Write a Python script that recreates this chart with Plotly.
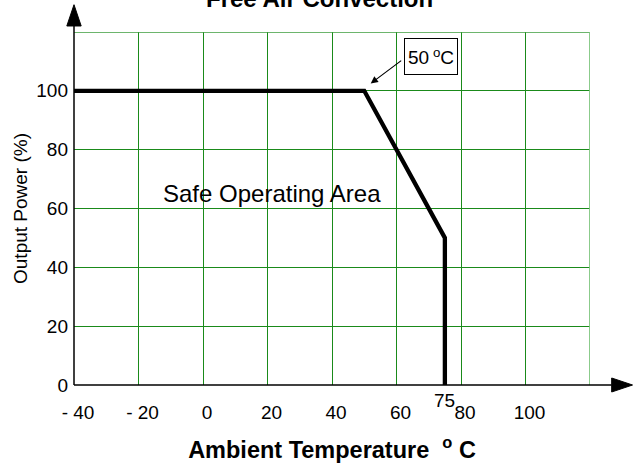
import plotly.graph_objects as go

# ---- data ----
temp = [-40, 50, 75, 75]          # ambient temperature (°C)
power = [100, 100, 50, 0]         # output power (%)
x_tick_vals = [-40, -20, 0, 20, 40, 60, 80, 100]
x_tick_text = ["- 40", "- 20", "0", "20", "40", "60", "80", "100"]
y_tick_vals = [0, 20, 40, 60, 80, 100]
y_tick_text = ["0", "20", "40", "60", "80", "100"]
x_range = [-40, 120]
y_range = [0, 120]
knee_temp = 50
cutoff_temp = 75

FONT = "Liberation Sans, Arial, sans-serif"
GRID = "#1a8a1a"
GRID_LIGHT = "#7fc67f"

fig = go.Figure()
fig.add_trace(go.Scatter(
    x=temp, y=power, mode="lines",
    line=dict(color="black", width=4.3),
    cliponaxis=False, hoverinfo="skip", showlegend=False,
))

fig.update_layout(
    width=633, height=467,
    margin=dict(l=74, r=43, t=32, b=82),
    paper_bgcolor="white", plot_bgcolor="white",
    font=dict(family=FONT, color="black", size=19),
    showlegend=False,
)

fig.update_xaxes(
    range=x_range, tickvals=x_tick_vals, ticktext=x_tick_text,
    showgrid=True, gridcolor=GRID, gridwidth=1.3,
    showline=False, zeroline=False, ticks="",
    tickfont=dict(size=19), ticklabelstandoff=14, ticklabelshift=4,
    title=dict(text="<b>Ambient Temperature  <sup>o</sup> C</b>",
               font=dict(size=23.5), standoff=19),
    automargin=False,
)
fig.update_yaxes(
    range=y_range, tickvals=y_tick_vals, ticktext=y_tick_text,
    showgrid=True, gridcolor=GRID, gridwidth=1.3,
    showline=False, zeroline=False, ticks="",
    tickfont=dict(size=19), ticklabelstandoff=5,
    title=dict(text="Output Power (%)", font=dict(size=19), standoff=3),
    automargin=False,
)

# plot frame edges (top and right) in green
fig.add_shape(type="line", xref="x", yref="y", x0=x_range[0], x1=x_range[1],
              y0=y_range[1], y1=y_range[1], line=dict(color="#3c9c3c", width=1.5))
fig.add_shape(type="line", xref="x", yref="y", x0=x_range[1], x1=x_range[1],
              y0=y_range[0], y1=y_range[1], line=dict(color=GRID_LIGHT, width=1.8))

# axis arrows (paper coords)
fig.add_shape(type="line", xref="paper", yref="paper", x0=0, x1=1.042, y0=0, y1=0,
              line=dict(color="black", width=1.5))
fig.add_shape(type="path", xref="paper", yref="paper",
              path="M 1.042,-0.0198 L 1.0824,0 L 1.042,0.0198 Z",
              fillcolor="black", line=dict(color="black", width=1))
fig.add_shape(type="line", xref="paper", yref="paper", x0=0, x1=0, y0=0, y1=1.017,
              line=dict(color="black", width=1.5))
fig.add_shape(type="path", xref="paper", yref="paper",
              path="M -0.0139,1.017 L 0,1.0773 L 0.0139,1.017 Z",
              fillcolor="black", line=dict(color="black", width=1))

# title (partly cut off at top)
fig.add_annotation(text="<b>Free Air Convection</b>", xref="paper", yref="paper",
                   x=0.475, y=1.052, xanchor="center", yanchor="bottom",
                   showarrow=False, font=dict(size=24))

# safe operating area label
fig.add_annotation(text="Safe Operating Area", xref="x", yref="y",
                   x=21.5, y=65, showarrow=False, font=dict(size=24))

# 50 °C box label
fig.add_annotation(text="50&#8201;<sup>o</sup>C", xref="x", yref="y",
                   x=70.6, y=111.6, showarrow=False, font=dict(size=19),
                   width=52, height=35,
                   bordercolor="black", borderwidth=1, borderpad=0,
                   bgcolor="white")
# arrow pointing to knee
fig.add_annotation(text="", xref="x", yref="y", x=knee_temp + 2, y=102.5,
                   ax=32, ay=-24, showarrow=True, arrowhead=2,
                   arrowsize=1.2, arrowwidth=1.2, arrowcolor="black")

# 75 label
fig.add_annotation(text=str(cutoff_temp), xref="x", yref="paper",
                   x=cutoff_temp, y=-0.0425, yanchor="middle",
                   showarrow=False, font=dict(size=19))

fig.write_html("out.html", config={"displayModeBar": False},
               post_script="document.body.style.margin='0';")
